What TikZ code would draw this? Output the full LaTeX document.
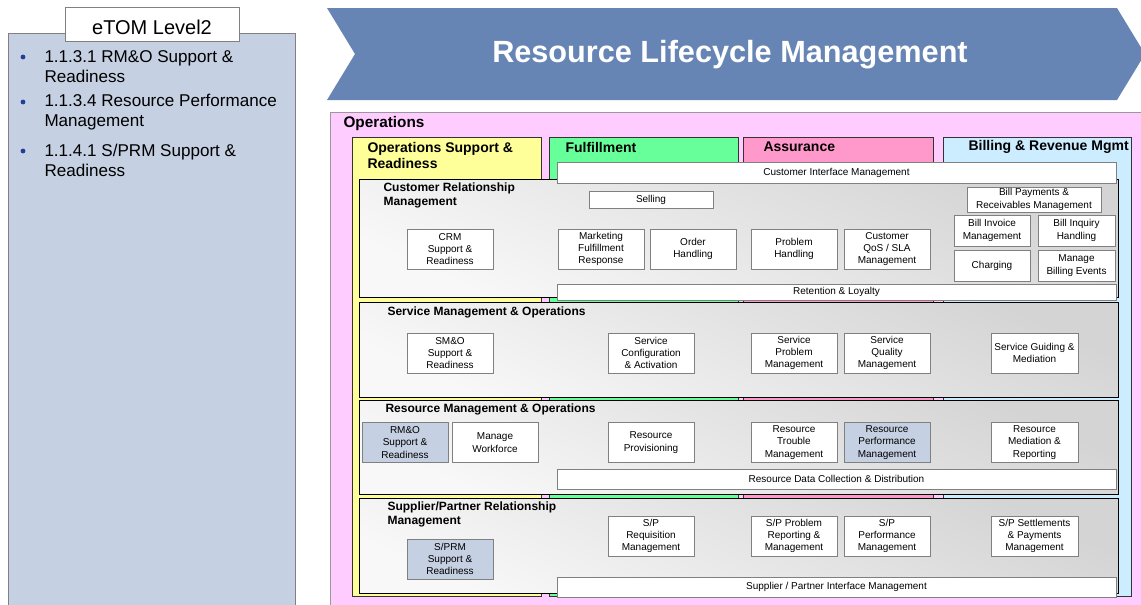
\documentclass[tikz,border=0pt]{standalone}
\usepackage{fontspec}
\setmainfont{Liberation Sans}
\usepackage{xcolor}
\definecolor{opspink}{RGB}{255,204,255}
\definecolor{osryellow}{RGB}{255,255,153}
\definecolor{fulgreen}{RGB}{102,255,153}
\definecolor{asspink}{RGB}{255,153,204}
\definecolor{billblue}{RGB}{204,236,255}
\definecolor{selblue}{RGB}{197,208,226}
\definecolor{chevblue}{RGB}{102,133,181}
\definecolor{boxgrey}{RGB}{128,128,128}
\definecolor{bulletblue}{RGB}{32,63,154}
\definecolor{rowtop}{RGB}{212,212,212}
\definecolor{rowbottom}{RGB}{248,248,248}
\tikzset{every picture/.style={line width=0.75pt}}
\tikzset{
proc/.style={draw=boxgrey, fill=white, align=center, inner sep=0.5pt, minimum width=64.5pt, minimum height=30pt, font=\fontsize{7.5}{9.2}\selectfont},
procsel/.style={proc, fill=selblue},
bar/.style={proc, minimum width=419.25pt, minimum height=15pt},
layer/.style={draw=black, top color=rowtop, bottom color=rowbottom, shading angle=-25},
column/.style={draw={rgb, 255:red, 51; green, 51; blue, 51 }},
coltitle/.style={anchor=west, inner sep=0pt, align=left, font=\fontsize{10.5}{12}\selectfont\bfseries},
laytitle/.style={anchor=west, inner sep=0pt, align=left, font=\fontsize{9}{10.5}\selectfont\bfseries},
item/.style={anchor=west, inner sep=0pt, align=left, font=\fontsize{12.8}{15}\selectfont}}

\begin{document}
\begin{tikzpicture}[x=0.75pt,y=0.75pt,yscale=-1,xscale=1]
\useasboundingbox (0,0) rectangle (1141,604);
\clip (0,0) rectangle (1141,604);

%Shape: Left panel
\draw [draw=boxgrey, fill=selblue] (8,33) rectangle (295,620) ;
\draw [draw=boxgrey, fill=white] (65,7) rectangle (239,41) ;
% Text Node
\node [inner sep=0pt, font=\fontsize{15}{18}\selectfont] (level) at (152,27) {eTOM Level2};
\foreach \yb in {57,102,151}
  \fill [bulletblue] (23,\yb) circle (1.8pt) ;
% Text Node
\node [item] (itemrmo) at (44,67) {1.1.3.1 RM\&O Support \&\\Readiness};
\node [item] (itemrpm) at (44,112.5) {1.1.3.4 Resource Performance\\Management};
\node [item] (itemsprm) at (44,160.5) {1.1.4.1 S/PRM Support \&\\Readiness};

%Shape: Chevron
\draw [draw=none, fill=chevblue] (327,8) -- (1117,8) -- (1145,54) -- (1117,100) -- (327,100) -- (355,54) -- cycle ;
% Text Node
\node [text=white, inner sep=0pt, font=\fontsize{23}{28}\selectfont\bfseries] (lifecycle) at (730,55) {Resource Lifecycle Management};

%Shape: Operations
\draw [draw={rgb, 255:red, 153; green, 153; blue, 153 }, fill=opspink] (330,112) rectangle (1160,630) ;
\node [anchor=west, inner sep=0pt, font=\fontsize{11.5}{13}\selectfont\bfseries] (ops) at (343,124) {Operations};

%Shape: Columns
\draw [column, fill=osryellow] (352,137) rectangle (541,596) ;
\draw [column, fill=fulgreen] (549,137) rectangle (738,596) ;
\draw [column, fill=asspink] (743,137) rectangle (933,596) ;
\draw [column, fill=billblue] (943,137) rectangle (1131,596) ;
% Text Node
\node [coltitle] (osr) at (367,155) {Operations Support \&\\Readiness};
\node [coltitle] (ful) at (565,147) {Fulfillment};
\node [coltitle] (ass) at (763,147) {Assurance};
\node [coltitle] (brm) at (968,147) {Billing \& Revenue Mgmt};

%Shape: Layers
\draw [layer] (359,179) rectangle (1118,297) ;
\draw [layer] (359,302) rectangle (1118,397) ;
\draw [layer] (359,400) rectangle (1118,494) ;
\draw [layer] (359,498) rectangle (1118,593) ;
% Text Node
\node [laytitle] (crm) at (383,195) {Customer Relationship\\Management};
\node [laytitle] (smo) at (387,312) {Service Management \& Operations};
\node [laytitle] (rmo) at (385,409) {Resource Management \& Operations};
\node [laytitle] (sprm) at (387,514) {Supplier/Partner Relationship\\Management};

%Shape: Interface bars
\node [bar, minimum height=15.75pt] (cim) at (836.5,172.5) {Customer Interface Management};
\node [bar, minimum height=12pt] (retention) at (836.5,292) {Retention \& Loyalty};
\node [bar] (rdcd) at (836.5,479) {Resource Data Collection \& Distribution};
\node [bar] (spim) at (836.5,587) {Supplier / Partner Interface Management};

% Customer Relationship Management
\node [proc, minimum width=93pt, minimum height=12.75pt] (selling) at (651,199.5) {Selling};
\node [proc] (crmsr) at (450,249) {CRM\\Support \&\\Readiness};
\node [proc] (mfr) at (601,249) {Marketing\\Fulfillment\\Response};
\node [proc] (orderh) at (693,249) {Order\\Handling};
\node [proc] (problemh) at (794,249) {Problem\\Handling};
\node [proc] (qossla) at (887,249) {Customer\\QoS / SLA\\Management};
\node [proc, minimum width=100.5pt, minimum height=18.75pt] (billpay) at (1034,199.5) {Bill Payments \&\\Receivables Management};
\node [proc, minimum width=57pt, minimum height=23.25pt] (billinv) at (992,230.5) {Bill Invoice\\Management};
\node [proc, minimum width=57.75pt, minimum height=23.25pt] (billinq) at (1076.5,230.5) {Bill Inquiry\\Handling};
\node [proc, minimum width=57pt, minimum height=23.25pt] (charging) at (992,265.5) {Charging};
\node [proc, minimum width=57.75pt, minimum height=23.25pt] (billev) at (1076.5,265.5) {Manage\\Billing Events};

% Service Management & Operations
\node [proc] (smosr) at (450,353) {SM\&O\\Support \&\\Readiness};
\node [proc] (svcconf) at (651,353) {Service\\Configuration\\\& Activation};
\node [proc] (svcprob) at (794,353) {Service\\Problem\\Management};
\node [proc] (svcqual) at (887,353) {Service\\Quality\\Management};
\node [proc, minimum width=65.25pt] (svcguide) at (1034.5,353) {Service Guiding \&\\Mediation};

% Resource Management & Operations
\node [procsel] (rmosr) at (405,442.5) {RM\&O\\Support \&\\Readiness};
\node [proc] (workforce) at (495,442.5) {Manage\\Workforce};
\node [proc] (resprov) at (651,442.5) {Resource\\Provisioning};
\node [proc] (restrouble) at (794,442.5) {Resource\\Trouble\\Management};
\node [procsel] (resperf) at (887,442.5) {Resource\\Performance\\Management};
\node [proc, minimum width=65.25pt] (resmed) at (1034.5,442.5) {Resource\\Mediation \&\\Reporting};

% Supplier/Partner Relationship Management
\node [procsel] (sprmsr) at (450,559) {S/PRM\\Support \&\\Readiness};
\node [proc] (spreq) at (651,536) {S/P\\Requisition\\Management};
\node [proc] (spprob) at (794,536) {S/P Problem\\Reporting \&\\Management};
\node [proc] (spperf) at (887,536) {S/P\\Performance\\Management};
\node [proc, minimum width=65.25pt] (spsettle) at (1034.5,536) {S/P Settlements\\\& Payments\\Management};
\end{tikzpicture}
\end{document}
